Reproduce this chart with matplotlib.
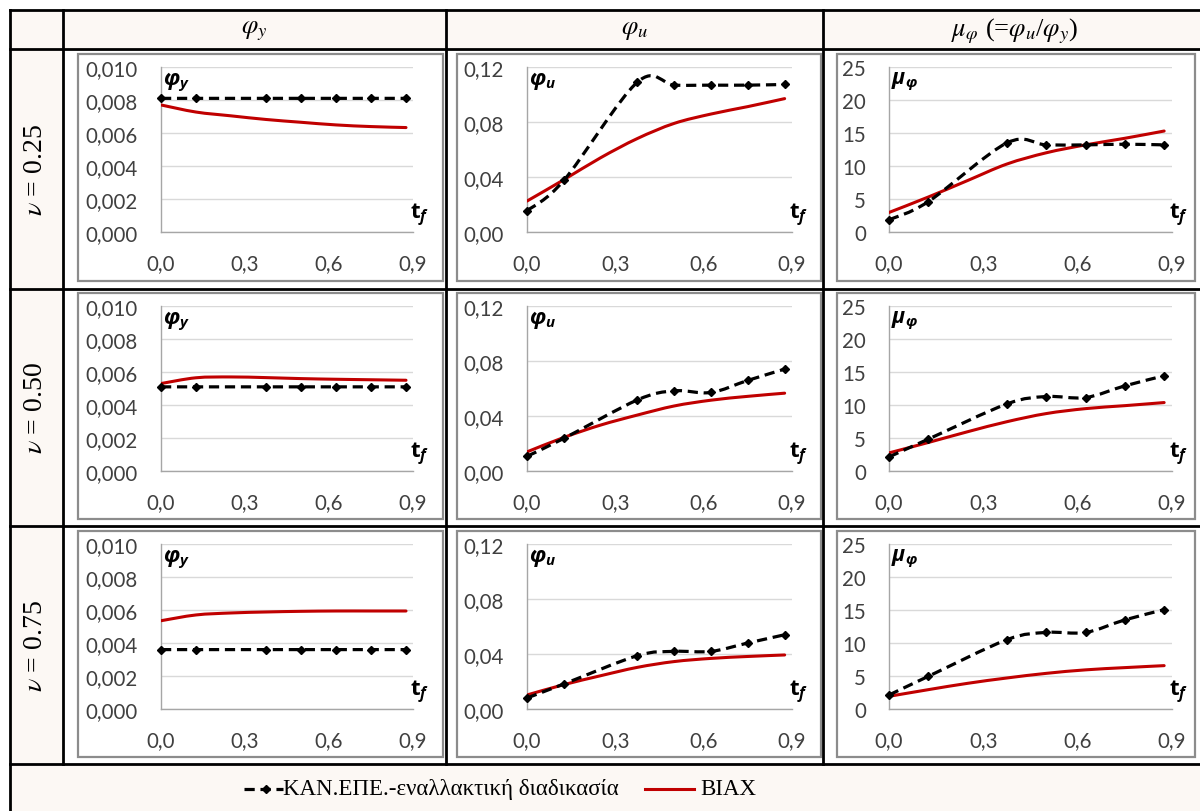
import numpy as np
import matplotlib
matplotlib.use("Agg")
import matplotlib.pyplot as plt
from matplotlib.path import Path
from matplotlib.patches import PathPatch, Rectangle
from matplotlib.lines import Line2D
from matplotlib.ticker import FixedLocator, FixedFormatter

# ---------------- data ----------------
tf_kan = [0.0, 0.125, 0.375, 0.5, 0.625, 0.75, 0.875]
tf_biax = [0.0, 0.125, 0.25, 0.375, 0.5, 0.625, 0.75, 0.875]

row_labels = ["0.25", "0.50", "0.75"]

# KAN.EPE. (dashed with markers), one list per row (nu = 0.25, 0.50, 0.75)
kan_phi_y = [
    [0.0081, 0.0081, 0.0081, 0.0081, 0.0081, 0.0081, 0.0081],
    [0.0051, 0.0051, 0.0051, 0.0051, 0.0051, 0.0051, 0.0051],
    [0.0036, 0.0036, 0.0036, 0.0036, 0.0036, 0.0036, 0.0036],
]
kan_phi_u = [
    [0.0154, 0.0375, 0.1090, 0.1068, 0.1068, 0.1068, 0.1073],
    [0.0107, 0.0237, 0.0517, 0.0583, 0.0571, 0.0659, 0.0741],
    [0.0080, 0.0182, 0.0388, 0.0419, 0.0419, 0.0480, 0.0540],
]
kan_mu = [
    [1.85, 4.6, 13.5, 13.2, 13.2, 13.3, 13.2],
    [2.13, 4.83, 10.16, 11.28, 11.13, 12.9, 14.43],
    [2.12, 4.95, 10.5, 11.6, 11.6, 13.5, 15.05],
]

# BIAX (solid red)
biax_phi_y = [
    [0.0077, 0.00727, 0.00704, 0.00682, 0.00665, 0.00649, 0.00639, 0.00633],
    [0.0053, 0.00565, 0.0057, 0.00566, 0.0056, 0.00556, 0.00553, 0.0055],
    [0.00535, 0.0057, 0.00582, 0.00588, 0.00592, 0.00594, 0.00594, 0.00594],
]
biax_phi_u = [
    [0.0225, 0.0380, 0.0540, 0.0680, 0.0790, 0.0858, 0.0912, 0.0970],
    [0.0139, 0.0244, 0.0334, 0.0407, 0.0473, 0.0515, 0.0543, 0.0566],
    [0.0102, 0.0177, 0.0242, 0.0303, 0.0345, 0.0368, 0.0382, 0.0393],
]
biax_mu = [
    [2.96, 5.3, 7.8, 10.3, 12.0, 13.2, 14.2, 15.3],
    [2.74, 4.32, 5.95, 7.47, 8.7, 9.45, 9.9, 10.37],
    [1.92, 2.93, 3.89, 4.7, 5.4, 5.93, 6.27, 6.57],
]

x_ticks = [0.0, 0.3, 0.6, 0.9]
x_ticklabels = ["0,0", "0,3", "0,6", "0,9"]
y_ticks = [
    [0.0, 0.002, 0.004, 0.006, 0.008, 0.010],
    [0.0, 0.04, 0.08, 0.12],
    [0, 5, 10, 15, 20, 25],
]
y_ticklabels = [
    ["0,000", "0,002", "0,004", "0,006", "0,008", "0,010"],
    ["0,00", "0,04", "0,08", "0,12"],
    ["0", "5", "10", "15", "20", "25"],
]
inner_labels = [r"$\mathbfit{\varphi}_{\mathbfit{y}}$",
                r"$\mathbfit{\varphi}_{\mathbfit{u}}$",
                r"$\mathbfit{\mu}_{\mathbfit{\varphi}}$"]
col_headers = [r"$\varphi_y$", r"$\varphi_u$",
               r"$\mu_\varphi$ (=$\varphi_u$/$\varphi_y$)"]
legend_kan = "ΚΑΝ.ΕΠΕ.-εναλλακτική διαδικασία"
legend_biax = "BIAX"

# ---------------- style ----------------
plt.rcParams["mathtext.fontset"] = "custom"
plt.rcParams["mathtext.rm"] = "Open Sans"
plt.rcParams["mathtext.it"] = "Open Sans:italic"
plt.rcParams["mathtext.bf"] = "Open Sans:bold"
plt.rcParams["mathtext.bfit"] = "Open Sans:italic:bold"

W, H = 1200, 812
fig = plt.figure(figsize=(W / 100, H / 100), dpi=100)
fig.patch.set_facecolor("white")


def fx(px):
    return px / W


def fy(py):
    return 1 - py / H


BEIGE = "#fcf8f4"
RED = "#c00000"
TICK_COLOR = "#404040"
TICK_FONT = "Lato"
SERIF = ["Liberation Serif", "STIXGeneral", "DejaVu Serif"]

# background fills
fig.add_artist(Rectangle((fx(10), fy(50)), fx(1200) - fx(10), fy(11) - fy(50),
                         transform=fig.transFigure, facecolor=BEIGE, edgecolor="none", zorder=0))
fig.add_artist(Rectangle((fx(10), fy(765)), fx(63) - fx(10), fy(50) - fy(765),
                         transform=fig.transFigure, facecolor=BEIGE, edgecolor="none", zorder=0))
fig.add_artist(Rectangle((fx(10), fy(812)), fx(1200) - fx(10), fy(765) - fy(812),
                         transform=fig.transFigure, facecolor=BEIGE, edgecolor="none", zorder=0))

# panel frames (gray)
panel_x = [(78, 443), (457, 821), (837, 1195)]
panel_y = [(55, 282), (294, 520), (532, 758)]
for (x0, x1) in panel_x:
    for (y0, y1) in panel_y:
        fig.add_artist(Rectangle((fx(x0), fy(y1)), fx(x1) - fx(x0), fy(y0) - fy(y1),
                                 transform=fig.transFigure, facecolor="white",
                                 edgecolor="#8c8c8c", lw=1.6, zorder=1))

# table grid lines (black)
LW_T = 2.0
for yy in [11, 50, 290, 527, 765]:
    fig.add_artist(Line2D([fx(10), fx(1200)], [fy(yy), fy(yy)], color="black",
                          lw=LW_T, transform=fig.transFigure, zorder=5))
for xx in [10]:
    fig.add_artist(Line2D([fx(xx), fx(xx)], [fy(11), fy(812)], color="black",
                          lw=LW_T, transform=fig.transFigure, zorder=5))
for xx in [63, 446, 823]:
    fig.add_artist(Line2D([fx(xx), fx(xx)], [fy(11), fy(765)], color="black",
                          lw=LW_T, transform=fig.transFigure, zorder=5))


def smooth_path(xs, ys):
    pts = np.column_stack([xs, ys]).astype(float)
    n = len(pts)
    verts = [pts[0]]
    codes = [Path.MOVETO]
    for i in range(n - 1):
        p0 = pts[i - 1] if i > 0 else pts[i]
        p1 = pts[i]
        p2 = pts[i + 1]
        p3 = pts[i + 2] if i + 2 < n else pts[i + 1]
        c1 = p1 + (p2 - p0) / 6.0
        c2 = p2 - (p3 - p1) / 6.0
        verts += [c1, c2, p2]
        codes += [Path.CURVE4] * 3
    return Path(verts, codes)


axes_x = [(161, 413), (527, 792), (889, 1172)]
axes_y = [(68, 233), (307, 472), (545, 710)]
ymax = [0.010, 0.12, 25]
kan_data = [kan_phi_y, kan_phi_u, kan_mu]
biax_data = [biax_phi_y, biax_phi_u, biax_mu]

for r in range(3):
    for c in range(3):
        x0, x1 = axes_x[c]
        y0, y1 = axes_y[r]
        ax = fig.add_axes([fx(x0), fy(y1), fx(x1) - fx(x0), fy(y0) - fy(y1)], zorder=3)
        ax.set_facecolor("none")
        ax.set_xlim(0, 0.9)
        ax.set_ylim(0, ymax[c])
        for s in ["top", "right"]:
            ax.spines[s].set_visible(False)
        for s in ["left", "bottom"]:
            ax.spines[s].set_color("#a6a6a6")
            ax.spines[s].set_linewidth(1.0)
        ax.yaxis.set_major_locator(FixedLocator(y_ticks[c]))
        ax.yaxis.set_major_formatter(FixedFormatter(y_ticklabels[c]))
        ax.xaxis.set_major_locator(FixedLocator(x_ticks))
        ax.xaxis.set_major_formatter(FixedFormatter(x_ticklabels))
        ax.tick_params(axis="y", length=0, pad=16.5, labelsize=14.8, labelcolor=TICK_COLOR)
        ax.tick_params(axis="x", length=0, pad=15.5, labelsize=14.8, labelcolor=TICK_COLOR)
        for lab in ax.get_xticklabels() + ax.get_yticklabels():
            lab.set_fontfamily(TICK_FONT)
        ax.set_axisbelow(True)
        ax.yaxis.grid(True, color="#d9d9d9", lw=1.0)
        ax.xaxis.grid(False)

        # BIAX smooth red line
        ax.add_patch(PathPatch(smooth_path(tf_biax, biax_data[c][r]), facecolor="none",
                               edgecolor=RED, lw=2.2, zorder=4, capstyle="round"))
        # KAN.EPE dashed black line with markers
        ax.add_patch(PathPatch(smooth_path(tf_kan, kan_data[c][r]), facecolor="none",
                               edgecolor="black", lw=2.3, linestyle=(0, (3.2, 1.8)), zorder=5))
        ax.plot(tf_kan, kan_data[c][r], linestyle="none", marker="D", ms=4.3,
                color="black", zorder=6, clip_on=False)

        ax.text(0.006, 0.985, inner_labels[c], transform=ax.transAxes, ha="left", va="top",
                fontsize=15.5, color="black", zorder=7)
        ax.text(1.025, 0.105, r"$\mathbf{t}_{\mathbfit{f}}$", transform=ax.transAxes,
                ha="center", va="center", fontsize=16, color="black", zorder=7)

# column headers
col_centers = [254.5, 634.5, 1015]
for c in range(3):
    fig.text(fx(col_centers[c]), fy(31), col_headers[c], ha="center", va="center",
             fontsize=19, family=SERIF, math_fontfamily="stix", zorder=6)

# row labels
row_centers = [170, 408, 646]
for r in range(3):
    fig.text(fx(36), fy(row_centers[r]), r"$\nu$ = " + row_labels[r], ha="center", va="center",
             rotation=90, fontsize=20, family=SERIF, math_fontfamily="stix", zorder=6)

# legend
ly = fy(790)
fig.add_artist(Line2D([fx(244), fx(283)], [ly, ly], color="black", lw=2.3,
                      linestyle=(0, (3.2, 1.8)), transform=fig.transFigure, zorder=6))
fig.add_artist(Line2D([fx(266)], [ly], color="black", marker="D", ms=4.3, linestyle="none",
                      transform=fig.transFigure, zorder=6))
fig.text(fx(283), ly, legend_kan, ha="left", va="center", fontsize=16.5,
         family=SERIF, zorder=6)
fig.add_artist(Line2D([fx(645), fx(694)], [ly, ly], color=RED, lw=2.2,
                      transform=fig.transFigure, zorder=6))
fig.text(fx(700), ly, legend_biax, ha="left", va="center", fontsize=16.5,
         family=SERIF, zorder=6)

fig.savefig("out.png", dpi=100, facecolor="white")
